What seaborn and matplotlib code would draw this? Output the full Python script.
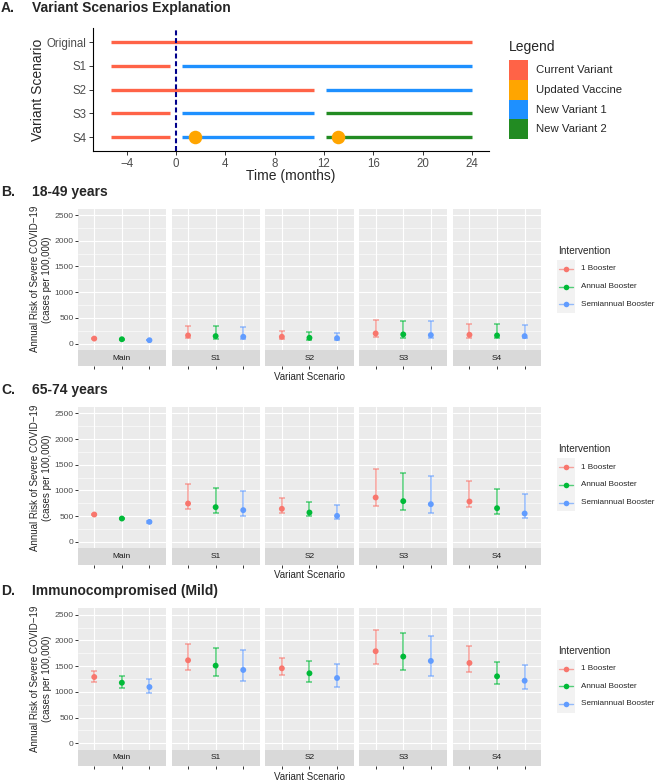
import matplotlib
matplotlib.use('Agg')
import matplotlib.pyplot as plt
import seaborn as sns
import pandas as pd
import numpy as np
from matplotlib.patches import Rectangle
from matplotlib.ticker import MultipleLocator

W, H = 660, 784

# ---- Panel A: variant timelines ----
variant_rows = ["Original", "S1", "S2", "S3", "S4"]
seg_row = ["Original", "S1", "S1", "S2", "S2", "S3", "S3", "S3", "S4", "S4", "S4"]
seg_start = [-5.3, -5.3, 0.5, -5.3, 12.2, -5.3, 0.5, 12.2, -5.3, 0.5, 12.2]
seg_end = [24, -0.5, 24, 11.2, 24, -0.5, 11.2, 24, -0.5, 11.2, 24]
seg_variant = ["Current Variant", "Current Variant", "New Variant 1",
               "Current Variant", "New Variant 1",
               "Current Variant", "New Variant 1", "New Variant 2",
               "Current Variant", "New Variant 1", "New Variant 2"]
vaccine_row = ["S4", "S4"]
vaccine_time = [1.5, 13.1]
time_ticks = [-4, 0, 4, 8, 12, 16, 20, 24]
legend_a = ["Current Variant", "Updated Vaccine", "New Variant 1", "New Variant 2"]
legend_a_colors = ["#FF6347", "#FFA500", "#1E90FF", "#228B22"]

# ---- Panels B-D: annual risk per scenario / intervention ----
scenarios = ["Main", "S1", "S2", "S3", "S4"]
interventions = ["1 Booster", "Annual Booster", "Semiannual Booster"]
int_colors = ["#F8766D", "#00BA38", "#619CFF"]

# 18-49 years
b_est = [97, 84, 65, 158, 145, 132, 132, 112, 105, 197, 178, 165, 171, 158, 145]
b_lo = [90, 78, 60, 100, 92, 85, 80, 66, 60, 132, 118, 112, 112, 105, 99]
b_hi = [104, 90, 70, 349, 342, 322, 243, 224, 210, 454, 447, 434, 388, 375, 355]
# 65-74 years
c_est = [532, 454, 389, 746, 675, 617, 643, 571, 506, 863, 792, 733, 785, 655, 552]
c_lo = [515, 440, 375, 630, 552, 500, 571, 500, 441, 694, 623, 565, 675, 545, 467]
c_hi = [548, 468, 402, 1129, 1051, 999, 857, 779, 714, 1408, 1343, 1285, 1175, 1025, 922]
# Immunocompromised (Mild)
d_est = [1289, 1178, 1094, 1614, 1510, 1426, 1458, 1361, 1269, 1790, 1686, 1601, 1562, 1302, 1217]
d_lo = [1191, 1081, 983, 1426, 1302, 1204, 1328, 1198, 1094, 1543, 1419, 1315, 1380, 1159, 1061]
d_hi = [1400, 1309, 1250, 1927, 1862, 1810, 1667, 1601, 1549, 2200, 2142, 2090, 1888, 1575, 1523]

sns.set_theme(style="white")
plt.rcParams['font.family'] = ['Liberation Sans', 'DejaVu Sans']

fig = plt.figure(figsize=(W / 100, H / 100), dpi=100)


def px_axes(x0, y0, x1, y1):
    return fig.add_axes([x0 / W, 1 - y1 / H, (x1 - x0) / W, (y1 - y0) / H])


# ---------------- Panel A ----------------
axA = px_axes(93, 28, 489, 151.25)
pal_a = dict(zip(legend_a, legend_a_colors))
row_idx = {r: i for i, r in enumerate(variant_rows)}
for r, s, e, v in zip(seg_row, seg_start, seg_end, seg_variant):
    axA.hlines(row_idx[r], s, e, color=pal_a[v], lw=2.4, zorder=2)
axA.axvline(0, color='#00008B', lw=1.5, ls=(0, (2.4, 1.3)), zorder=4)
vac = pd.DataFrame({"time": vaccine_time, "row": [row_idx[r] for r in vaccine_row]})
sns.scatterplot(data=vac, x="time", y="row", color=pal_a["Updated Vaccine"],
                s=95, linewidth=0, ax=axA, zorder=3)
axA.set_xlim(-6.76, 25.4)
axA.set_ylim(len(variant_rows) - 0.4, -0.6)
axA.set_yticks(range(len(variant_rows)))
axA.set_yticklabels(variant_rows)
axA.set_xticks(time_ticks)
axA.set_xlabel("")
axA.set_ylabel("")
for sp in ['top', 'right']:
    axA.spines[sp].set_visible(False)
for sp in ['left', 'bottom']:
    axA.spines[sp].set_color('black')
    axA.spines[sp].set_linewidth(0.8)
axA.tick_params(axis='both', length=2.75, width=0.7, color='#333333',
                labelsize=8.3, labelcolor='#4D4D4D', pad=1.8, left=True, bottom=True)

# ---------------- Panels B-D ----------------
panels = [
    ("B.", "18-49 years", 208.6, b_est, b_lo, b_hi),
    ("C.", "65-74 years", 406.9, c_est, c_lo, c_hi),
    ("D.", "Immunocompromised (Mild)", 608.3, d_est, d_lo, d_hi),
]
pal = dict(zip(interventions, int_colors))
facet_left, facet_w, facet_step = 77.7, 88.3, 93.8
panel_h, strip_h = 141.4, 16.4

for tag, title, top, est, lo, hi in panels:
    df = pd.DataFrame({
        "scenario": np.repeat(scenarios, len(interventions)),
        "intervention": interventions * len(scenarios),
        "est": est, "lo": lo, "hi": hi,
    })
    bottom = top + panel_h
    for k, scen in enumerate(scenarios):
        x0 = facet_left + k * facet_step
        ax = px_axes(x0, top, x0 + facet_w, bottom)
        ax.set_facecolor('#EBEBEB')
        sub = df[df.scenario == scen].reset_index(drop=True)
        for i, row in sub.iterrows():
            ax.errorbar(i, row.est, yerr=[[row.est - row.lo], [row.hi - row.est]],
                        fmt='none', ecolor=pal[row.intervention], alpha=0.65,
                        elinewidth=1.1, capsize=2.0, capthick=1.1, zorder=3)
        sns.scatterplot(data=sub, x=np.arange(len(sub)), y="est", hue="intervention",
                        palette=pal, s=18, linewidth=0, legend=False, ax=ax, zorder=4)
        ax.set_xlim(-0.6, len(interventions) - 0.4)
        ax.set_ylim(-125, 2625)
        ax.set_xticks(range(len(interventions)))
        ax.yaxis.set_major_locator(MultipleLocator(500))
        ax.yaxis.set_minor_locator(MultipleLocator(250))
        ax.grid(which='major', color='white', lw=0.8)
        ax.grid(which='minor', axis='y', color='white', lw=0.4)
        ax.set_axisbelow(True)
        ax.set_xlabel("")
        ax.set_ylabel("")
        for sp in ax.spines.values():
            sp.set_visible(False)
        ax.tick_params(axis='x', length=0, labelbottom=False)
        ax.tick_params(axis='y', which='minor', length=0)
        if k == 0:
            ax.tick_params(axis='y', which='major', length=2.2, width=0.7, color='#333333',
                           labelsize=6.1, labelcolor='#4D4D4D', pad=0.8, left=True)
        else:
            ax.tick_params(axis='y', which='both', length=0, labelleft=False)
        # strip below facet
        st = px_axes(x0, bottom, x0 + facet_w, bottom + strip_h)
        st.set_facecolor('#D9D9D9')
        st.set_xlim(-0.6, len(interventions) - 0.4)
        st.set_ylim(0, 1)
        st.set_xticks(range(len(interventions)))
        st.set_yticks([])
        st.tick_params(axis='x', length=2.2, width=0.7, color='#333333',
                       labelbottom=False, bottom=True, direction='out')
        for sp in st.spines.values():
            sp.set_visible(False)
        st.text(0.5, 0.5, scen, transform=st.transAxes, ha='center', va='center',
                fontsize=6, color='#1A1A1A')

# ---------------- overlay: titles, labels, legends ----------------
ov = fig.add_axes([0, 0, 1, 1])
ov.set_xlim(0, W)
ov.set_ylim(H, 0)
ov.axis('off')
ov.patch.set_alpha(0)

ov.text(1, 7.5, "A.", fontsize=10, fontweight='bold', va='center')
ov.text(31.7, 7.5, "Variant Scenarios Explanation", fontsize=10, fontweight='bold', va='center')
ov.text(38, 89.6, "Variant Scenario", fontsize=10, rotation=90, ha='center', va='center')
ov.text(291, 175.7, "Time (months)", fontsize=10, ha='center', va='center')

ov.text(509, 47, "Legend", fontsize=10, va='center')
for i, (lab, col) in enumerate(zip(legend_a, legend_a_colors)):
    ov.add_patch(Rectangle((509, 60 + i * 19.75), 19, 19.75, color=col, lw=0))
    ov.text(536, 70 + i * 19.75, lab, fontsize=8.2, va='center')

for tag, title, top, est, lo, hi in panels:
    bottom = top + panel_h
    ov.text(1, top - 17, tag, fontsize=10, fontweight='bold', va='center')
    ov.text(31.7, top - 17, title, fontsize=10, fontweight='bold', va='center')
    ov.text(41, (top + bottom) / 2, "Annual Risk of Severe COVID\u221219\n(cases per 100,000)",
            fontsize=7, rotation=90, ha='center', va='center', multialignment='center',
            linespacing=1.25)
    ov.text(facet_left + (4 * facet_step + facet_w) / 2, bottom + strip_h + 10.5,
            "Variant Scenario", fontsize=7, ha='center', va='center')
    ov.text(557.7, top + 42.4, "Intervention", fontsize=7.2, va='center')
    ov.add_patch(Rectangle((557, top + 51.4), 18, 53, color='#F2F2F2', lw=0))
    for i, (lab, col) in enumerate(zip(interventions, int_colors)):
        ky = top + 51.4 + 8.85 + i * 17.7
        ov.plot([559, 573], [ky, ky], color=col, lw=1.0, alpha=0.65)
        ov.scatter([566], [ky], s=16, color=col, linewidths=0, zorder=3)
        ov.text(580.7, ky, lab, fontsize=5.9, va='center')

plt.savefig("out.png", dpi=100)
plt.close()
